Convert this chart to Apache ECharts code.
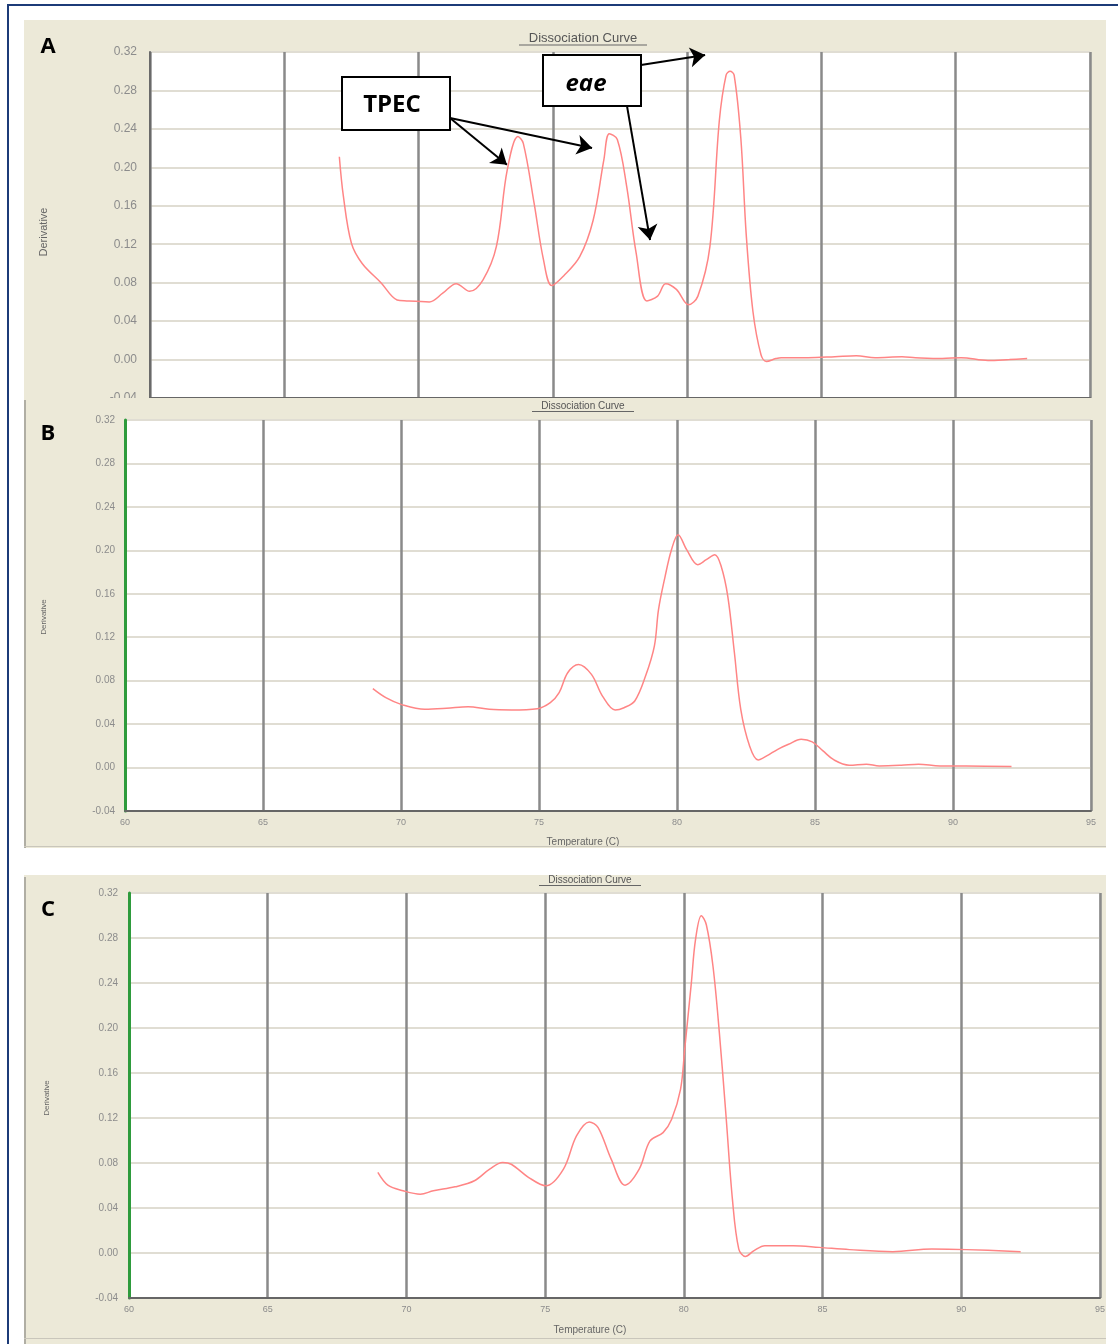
<!DOCTYPE html>
<html>
<head>
<meta charset="utf-8">
<title>Dissociation Curve</title>
<script src="https://cdn.jsdelivr.net/npm/echarts@6.0.0/dist/echarts.min.js"></script>
<style>
  body { margin:0; background:#fff; width:1118px; height:1344px; position:relative; overflow:hidden; }
  #frame { position:absolute; left:7px; top:4px; width:1130px; height:1360px; border-left:2px solid #1c3b78; border-top:2px solid #1c3b78; }
  .panel { position:absolute; left:24px; width:1082px; }
  #panelA { top:20px; height:378px; }
  #panelB { top:398px; height:450px; }
  #panelC { top:875px; height:469px; }
</style>
</head>
<body>
<div id="frame"></div>
<div class="panel" id="panelA"></div>
<div class="panel" id="panelB"></div>
<div class="panel" id="panelC"></div>

<script>
// melt curves: temperature (C) and derivative
var tempA  = [67.05, 67.2, 67.5, 67.9, 68.6, 69.2, 69.56, 70.4, 70.9, 71.4, 71.9, 72.4, 72.9, 73.3, 73.7, 73.9, 74.3, 74.65, 74.96, 75.4, 76.0, 76.5, 76.9, 77.1, 77.4, 77.75, 78.1, 78.5, 78.9, 79.2, 79.6, 80.05, 80.4, 80.85, 81.2, 81.45, 81.6, 81.75, 82.0, 82.2, 82.45, 82.75, 82.95, 83.3, 83.5, 84.5, 85.5, 86.3, 87.0, 88.0, 88.5, 89.5, 90.2, 91.2, 92.0, 92.66];
var derivA = [0.211, 0.170, 0.121, 0.100, 0.080, 0.062, 0.061, 0.060, 0.069, 0.079, 0.071, 0.083, 0.118, 0.197, 0.232, 0.225, 0.163, 0.104, 0.077, 0.087, 0.107, 0.145, 0.208, 0.235, 0.229, 0.180, 0.111, 0.061, 0.066, 0.079, 0.073, 0.057, 0.066, 0.118, 0.249, 0.296, 0.300, 0.296, 0.230, 0.130, 0.050, 0.005, -0.002, 0.001, 0.002, 0.002, 0.003, 0.004, 0.002, 0.003, 0.002, 0.001, 0.002, -0.001, 0.000, 0.001];

var tempB  = [68.98, 69.45, 70.0, 70.86, 71.65, 72.43, 73.2, 74.0, 74.94, 75.41, 75.73, 76.04, 76.43, 76.9, 77.3, 77.76, 78.08, 78.47, 78.86, 79.18, 79.33, 79.57, 79.8, 80.04, 80.35, 80.75, 81.06, 81.37, 81.6, 81.84, 82.08, 82.31, 82.63, 82.94, 83.25, 83.65, 84.04, 84.5, 84.9, 85.29, 85.69, 86.24, 86.86, 87.33, 88.12, 88.75, 89.53, 90.47, 92.12];
var derivB = [0.0726, 0.0643, 0.0582, 0.0536, 0.0545, 0.0560, 0.0536, 0.0530, 0.0542, 0.0597, 0.0689, 0.0873, 0.0949, 0.0858, 0.0658, 0.0530, 0.0551, 0.0613, 0.0842, 0.1118, 0.1455, 0.1761, 0.2006, 0.2144, 0.2006, 0.1868, 0.1914, 0.1960, 0.1853, 0.1577, 0.1057, 0.0536, 0.0199, 0.0070, 0.0107, 0.0168, 0.0214, 0.0260, 0.0236, 0.0153, 0.0070, 0.0021, 0.0031, 0.0015, 0.0021, 0.0031, 0.0015, 0.0015, 0.0009];

var tempC  = [68.97, 69.33, 69.88, 70.5, 70.97, 71.75, 72.45, 73.0, 73.47, 73.78, 74.41, 75.03, 75.66, 76.13, 76.59, 76.91, 77.38, 77.88, 78.39, 78.78, 79.25, 79.56, 79.88, 80.03, 80.27, 80.42, 80.63, 80.81, 81.05, 81.28, 81.52, 81.75, 81.98, 82.22, 82.53, 82.92, 83.94, 84.88, 85.97, 87.53, 88.94, 90.19, 92.14];
var derivC = [0.0716, 0.0603, 0.0553, 0.0523, 0.0553, 0.0588, 0.0642, 0.0745, 0.0804, 0.0789, 0.0671, 0.0597, 0.0745, 0.1041, 0.1165, 0.1115, 0.0834, 0.0603, 0.0745, 0.0996, 0.1070, 0.1189, 0.1455, 0.1810, 0.2401, 0.2785, 0.2998, 0.2918, 0.2549, 0.1957, 0.1218, 0.0479, 0.0035, -0.0030, 0.0021, 0.0065, 0.0065, 0.0050, 0.0030, 0.0012, 0.0035, 0.0030, 0.0012];

// annotation arrows in panel A: [fromTemp, fromDeriv, toTemp, toDeriv]
var arrowsA = [
  [71.17, 0.2514, 73.29, 0.2026],
  [71.17, 0.2514, 76.46, 0.2202],
  [78.28, 0.3065, 80.67, 0.3169],
  [77.76, 0.2639, 78.62, 0.1244]
];

function pairs(xs, ys) {
  return xs.map(function (x, i) { return [x, ys[i]]; });
}

function titleGraphic(cx, cy, size, w) {
  return [
    { type:'text', x:cx, y:cy, z:20, style:{ text:'Dissociation Curve', font:size + 'px "Liberation Sans"', fill:'#555', align:'center', verticalAlign:'middle' } },
    { type:'rect', shape:{ x:cx - w/2, y:cy + size/2, width:w, height:1 }, z:20, style:{ fill:'#666' } }
  ];
}

function makePanel(id, p) {
  var chart = echarts.init(document.getElementById(id));
  var graphic = [
    { type:'text', x:p.letter[1], y:p.letter[2], z:20, style:{ text:p.letter[0], font:'bold 22px "Open Sans"', fill:'#000', align:'center', verticalAlign:'middle' } },
    { type:'text', x:p.yName[0], y:p.yName[1], rotation:Math.PI/2, z:20, style:{ text:'Derivative', font:p.yName[2] + 'px "Liberation Sans"', fill:'#666', align:'center', verticalAlign:'middle' } }
  ].concat(titleGraphic(p.title[0], p.title[1], p.title[2], p.title[3]));
  if (p.xName) {
    graphic.push({ type:'text', x:p.xName[0], y:p.xName[1], z:20, style:{ text:'Temperature (C)', font:'10px "Liberation Sans"', fill:'#666', align:'center', verticalAlign:'middle' } });
  }
  if (p.edge) {
    graphic.push({ type:'rect', shape:{ x:0, y:2, width:2, height:p.h }, z:20, style:{ fill:'#b0aea4' } });
    graphic.push({ type:'rect', shape:{ x:0, y:p.strip, width:1082, height:1 }, z:20, style:{ fill:'#c9c6bb' } });
  }
  if (p.boxes) graphic = graphic.concat(p.boxes);

  var series = [{
    type:'line',
    data:p.data,
    smooth:0.35,
    showSymbol:false,
    silent:true,
    animation:false,
    z:5,
    lineStyle:{ color:'#ff8585', width:1.5 }
  }];
  if (p.arrows) {
    series[0].markLine = {
      silent:true,
      animation:false,
      symbol:['none', 'arrow'],
      symbolSize:15,
      label:{ show:false },
      lineStyle:{ color:'#000', width:2, type:'solid' },
      data:p.arrows.map(function (a) { return [{ coord:[a[0], a[1]] }, { coord:[a[2], a[3]] }]; })
    };
  }

  chart.setOption({
    backgroundColor:'#ece9d8',
    animation:false,
    grid:{ left:p.grid[0], top:p.grid[1], width:p.grid[2], height:p.grid[3], outerBoundsMode:'none', containLabel:false,
      show:true, backgroundColor:'#fff', borderColor:'#a0a0a0', borderWidth:1 },
    xAxis:{
      type:'value', min:60, max:95, interval:5,
      axisLine:{ show:true, onZero:false, lineStyle:{ color:'#666', width:2 } },
      axisTick:{ show:false },
      axisLabel:{ show:p.xLabels, fontSize:9, color:'#8c8c8c', margin:7, fontFamily:'Liberation Sans' },
      splitLine:{ show:true, lineStyle:{ color:'#8a8a8a', width:2.5 } }
    },
    yAxis:{
      type:'value', min:-0.04, max:0.32, interval:0.04,
      axisLine:{ show:true, lineStyle:{ color:p.axisColor, width:p.axisWidth } },
      axisTick:{ show:false },
      axisLabel:{ fontSize:p.yFont, color:'#8c8c8c', margin:p.yMargin, fontFamily:'Liberation Sans',
        formatter:function (v) { return v.toFixed(2); } },
      splitLine:{ show:true, lineStyle:{ color:'#e0ddd3', width:2 } }
    },
    graphic:graphic,
    series:series
  });
  return chart;
}

// panel A: label boxes for the annotations
var boxesA = [
  { type:'rect', shape:{ x:318, y:57, width:108, height:53 }, z:30, style:{ fill:'#fff', stroke:'#000', lineWidth:2 } },
  { type:'text', x:368, y:85, z:31, style:{ text:'TPEC', font:'bold 24px "Open Sans"', fill:'#000', align:'center', verticalAlign:'middle' } },
  { type:'rect', shape:{ x:519, y:35, width:98, height:51 }, z:30, style:{ fill:'#fff', stroke:'#000', lineWidth:2 } },
  { type:'text', x:562, y:64, z:31, style:{ text:'eae', font:'italic bold 24px "Open Sans"', fill:'#000', align:'center', verticalAlign:'middle' } }
];

makePanel('panelA', {
  data:pairs(tempA, derivA),
  grid:[126, 32, 940, 346],
  xLabels:false, yFont:12, yMargin:13,
  axisColor:'#6a6a6a', axisWidth:2,
  letter:['A', 24, 27],
  yName:[20, 212, 11],
  title:[559, 18, 13, 128],
  boxes:boxesA,
  arrows:arrowsA
});

makePanel('panelB', {
  data:pairs(tempB, derivB),
  grid:[101, 22, 966, 391],
  xLabels:true, yFont:10, yMargin:10,
  axisColor:'#2e9b3c', axisWidth:3,
  letter:['B', 24, 36],
  yName:[20, 219, 8],
  title:[559, 8, 10, 102],
  xName:[559, 444],
  edge:true, h:450, strip:448
});

makePanel('panelC', {
  data:pairs(tempC, derivC),
  grid:[105, 18, 971, 405],
  xLabels:true, yFont:10, yMargin:11,
  axisColor:'#2e9b3c', axisWidth:3,
  letter:['C', 24, 35],
  yName:[23, 223, 8],
  title:[566, 5, 10, 102],
  xName:[566, 455],
  edge:true, h:469, strip:463
});
</script>
</body>
</html>
